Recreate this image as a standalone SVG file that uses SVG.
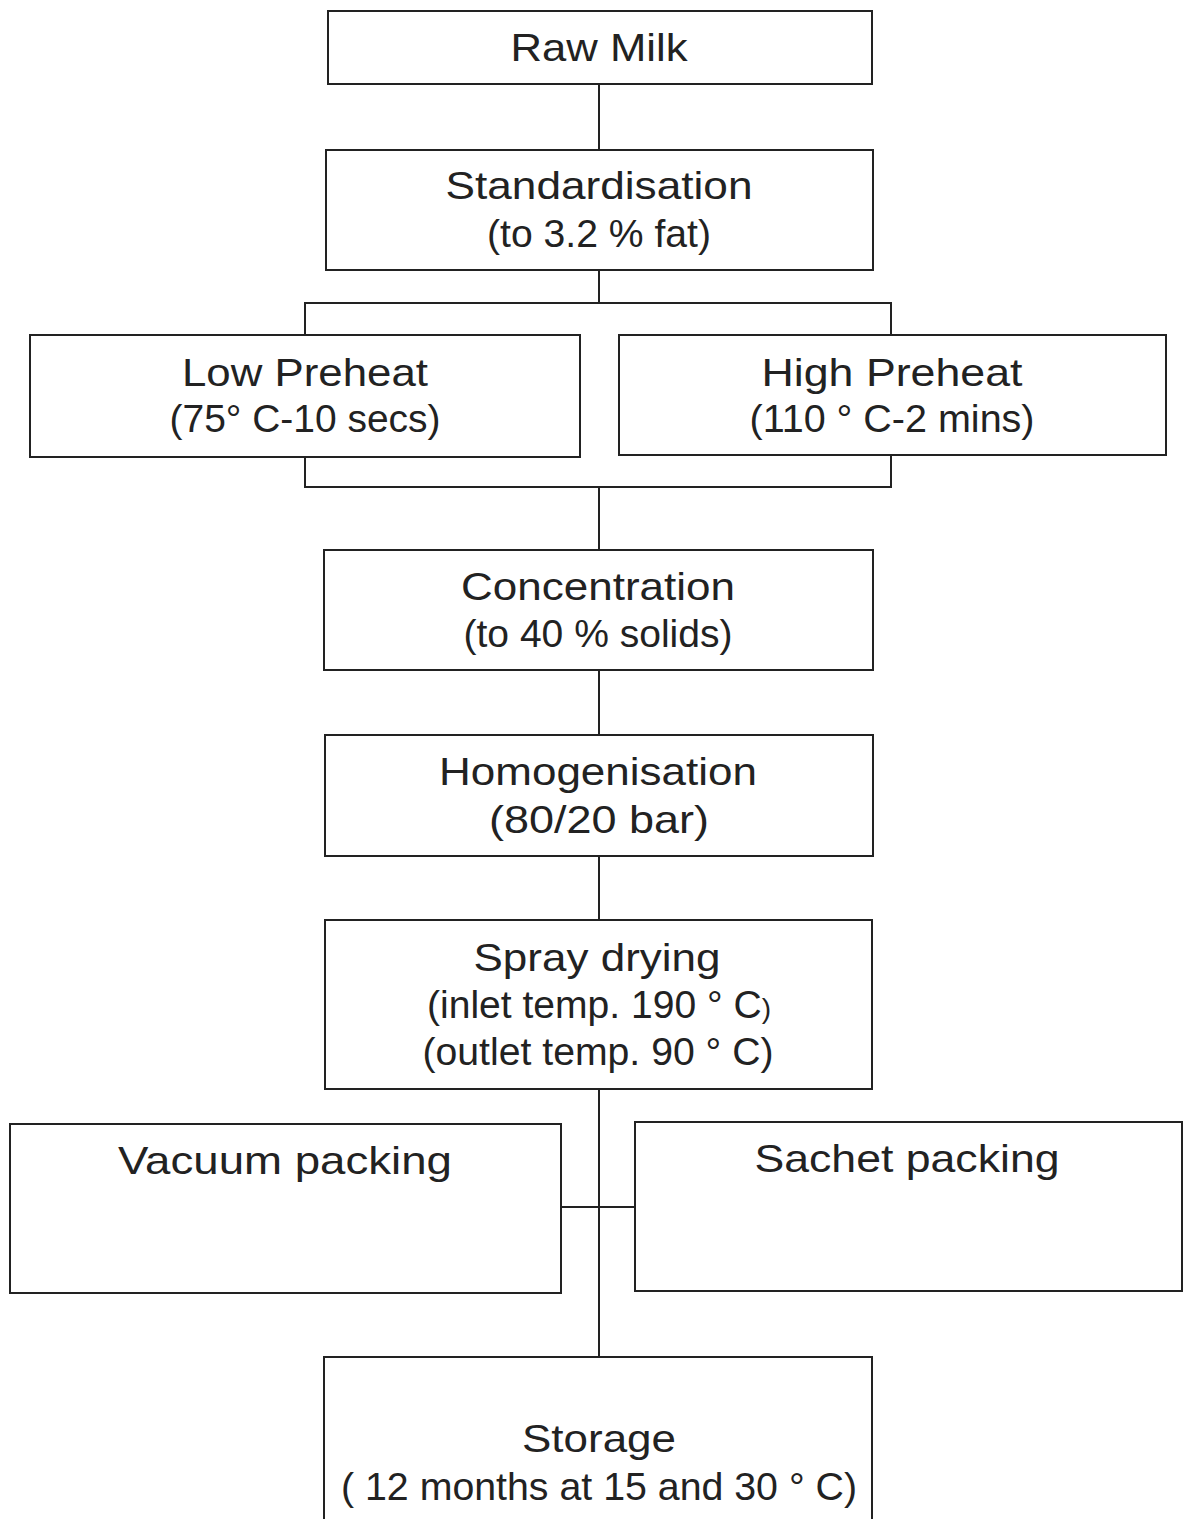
<svg xmlns="http://www.w3.org/2000/svg" width="1183" height="1519" viewBox="0 0 1183 1519">
<style>
.box{fill:#fff;stroke:#222;stroke-width:2}
.ln{fill:none;stroke:#222;stroke-width:2}
text{font-family:"Liberation Sans",Arial,sans-serif;font-size:39px;fill:#222;text-anchor:middle}
</style>
<rect width="1183" height="1519" fill="#fff"/>
<g id="connectors">
<line class="ln" x1="599" y1="84" x2="599" y2="150"/>
<line class="ln" x1="599" y1="270" x2="599" y2="303"/>
<polyline class="ln" points="305,335 305,303 891,303 891,335"/>
<polyline class="ln" points="305,457 305,487 891,487 891,455"/>
<line class="ln" x1="599" y1="487" x2="599" y2="550"/>
<line class="ln" x1="599" y1="670" x2="599" y2="735"/>
<line class="ln" x1="599" y1="856" x2="599" y2="920"/>
<line class="ln" x1="599" y1="1089" x2="599" y2="1357"/>
<line class="ln" x1="561" y1="1207" x2="635" y2="1207"/>
</g>
<g id="raw-milk">
<rect class="box" x="328" y="11" width="544" height="73"/>
<text x="599" y="61" textLength="177" lengthAdjust="spacingAndGlyphs">Raw Milk</text>
</g>
<g id="standardisation">
<rect class="box" x="326" y="150" width="547" height="120"/>
<text x="599" y="199" textLength="307" lengthAdjust="spacingAndGlyphs">Standardisation</text>
<text x="599" y="247" textLength="224" lengthAdjust="spacingAndGlyphs">(to 3.2 % fat)</text>
</g>
<g id="low-preheat">
<rect class="box" x="30" y="335" width="550" height="122"/>
<text x="305" y="386" textLength="246" lengthAdjust="spacingAndGlyphs">Low Preheat</text>
<text x="305" y="432" textLength="271" lengthAdjust="spacingAndGlyphs">(75° C-10 secs)</text>
</g>
<g id="high-preheat">
<rect class="box" x="619" y="335" width="547" height="120"/>
<text x="892" y="386" textLength="261" lengthAdjust="spacingAndGlyphs">High Preheat</text>
<text x="892" y="432" textLength="285" lengthAdjust="spacingAndGlyphs">(110 ° C-2 mins)</text>
</g>
<g id="concentration">
<rect class="box" x="324" y="550" width="549" height="120"/>
<text x="598" y="600" textLength="274" lengthAdjust="spacingAndGlyphs">Concentration</text>
<text x="598" y="647" textLength="269" lengthAdjust="spacingAndGlyphs">(to 40 % solids)</text>
</g>
<g id="homogenisation">
<rect class="box" x="325" y="735" width="548" height="121"/>
<text x="598" y="785" textLength="318" lengthAdjust="spacingAndGlyphs">Homogenisation</text>
<text x="599" y="833" textLength="220" lengthAdjust="spacingAndGlyphs">(80/20 bar)</text>
</g>
<g id="spray-drying">
<rect class="box" x="325" y="920" width="547" height="169"/>
<text x="597" y="971" textLength="247" lengthAdjust="spacingAndGlyphs">Spray drying</text>
<text x="599" y="1018" textLength="344" lengthAdjust="spacingAndGlyphs">(inlet temp. 190 ° C<tspan font-size="28">)</tspan></text>
<text x="598" y="1065" textLength="351" lengthAdjust="spacingAndGlyphs">(outlet temp. 90 ° C)</text>
</g>
<g id="vacuum-packing">
<rect class="box" x="10" y="1124" width="551" height="169"/>
<text x="285" y="1174" textLength="334" lengthAdjust="spacingAndGlyphs">Vacuum packing</text>
</g>
<g id="sachet-packing">
<rect class="box" x="635" y="1122" width="547" height="169"/>
<text x="907" y="1172" textLength="305" lengthAdjust="spacingAndGlyphs">Sachet packing</text>
</g>
<g id="storage">
<rect class="box" x="324" y="1357" width="548" height="180"/>
<text x="599" y="1452" textLength="154" lengthAdjust="spacingAndGlyphs">Storage</text>
<text x="599" y="1500" textLength="516" lengthAdjust="spacingAndGlyphs">( 12 months at 15 and 30 ° C)</text>
</g>
</svg>
